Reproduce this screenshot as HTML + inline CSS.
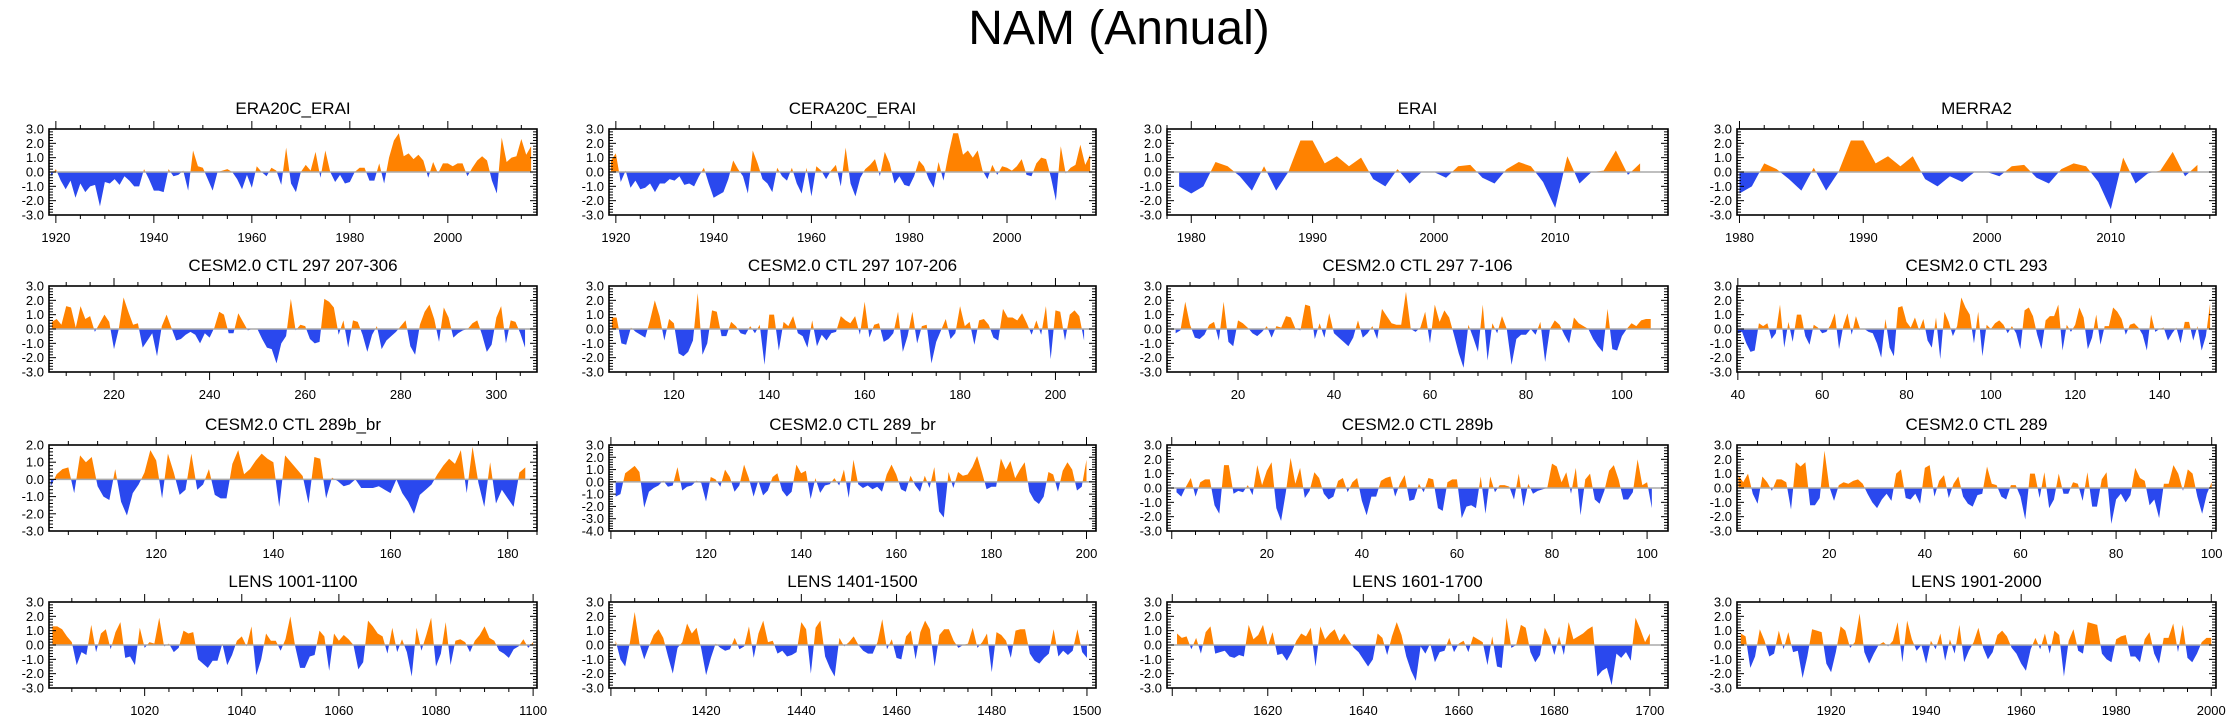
<!DOCTYPE html>
<html><head><meta charset="utf-8"><style>
html,body{margin:0;padding:0;background:#fff;}
svg{display:block;font-family:"Liberation Sans",Arial,sans-serif;}
</style></head><body>
<svg id="fig" width="2238" height="718" viewBox="0 0 2238 718" xmlns="http://www.w3.org/2000/svg">
<text x="1119" y="44" text-anchor="middle" font-size="48" fill="#000">NAM (Annual)</text>
<g id="panels"></g>
</svg>
<script>
const titles = ["ERA20C_ERAI","CERA20C_ERAI","ERAI","MERRA2",
"CESM2.0 CTL 297 207-306","CESM2.0 CTL 297 107-206","CESM2.0 CTL 297 7-106","CESM2.0 CTL 293",
"CESM2.0 CTL 289b_br","CESM2.0 CTL 289_br","CESM2.0 CTL 289b","CESM2.0 CTL 289",
"LENS 1001-1100","LENS 1401-1500","LENS 1601-1700","LENS 1901-2000"];
const startYears = [1919,1919,1979,1980,207,107,7,40,102,101,1,1,1001,1401,1601,1901];
const xMins = [1918.6,1918.6,1978,1979.8,206.4,106.4,5.2,39.8,101.7,99.6,-1,0.7,1000.3,1399.6,1598.9,1900.2];
const xMaxs = [2018.2,2018.2,2019.3,2018.5,308.5,208.5,109.6,153.4,185,202,104.4,100.9,1100.8,1501.9,1703.8,2001];
const yMins = [-3,-3,-3,-3,-3,-3,-3,-3,-3,-4,-3,-3,-3,-3,-3,-3];
const yMaxs = [3,3,3,3,3,3,3,3,2,3,3,3,3,3,3,3];
const majorSteps = [20,20,10,10,20,20,20,20,20,20,20,20,20,20,20,20];
const minorSteps = [5,5,2,2,5,5,5,5,5,5,5,5,5,5,5,5];

const s0 = [-0.3,0.2,-0.6,-1.2,-0.6,-1.8,-0.8,-1.4,-1.0,-0.9,-2.4,-0.7,-0.8,-0.5,-0.9,-0.3,-0.6,-1.0,-1.0,0.2,-0.5,-1.3,-1.3,-1.4,0.2,-0.3,-0.2,0.1,-1.3,1.5,0.4,0.3,-0.5,-1.3,0.0,0.1,0.2,0.0,-0.5,-1.2,-0.2,-1.1,0.4,0.0,-0.3,0.3,0.1,-0.9,1.7,-0.8,-1.4,0.0,0.5,0.1,1.4,-0.4,1.5,0.0,-0.7,-0.2,-0.8,-0.7,0.0,0.3,0.3,-0.6,-0.6,0.6,-0.8,1.0,2.2,2.7,1.1,1.3,0.9,1.2,0.8,-0.4,0.7,-0.1,0.6,0.6,0.4,0.6,0.6,-0.3,0.3,0.8,1.1,0.8,-0.6,-1.5,2.4,0.7,1.0,1.1,2.3,1.2,1.8];
const s1 = [0.8,1.3,-0.7,0.1,-1.1,-0.6,-1.2,-1.1,-0.8,-1.4,-0.8,-0.8,-0.5,-0.6,-0.3,-0.9,-0.8,-1.0,-0.3,0.3,-0.8,-1.8,-1.6,-1.4,-0.5,0.8,0.2,-0.3,-1.5,1.5,0.6,-0.5,-0.8,-1.4,0.3,-0.3,-0.6,0.3,-0.8,-1.5,0.3,-1.7,0.4,0.1,-0.5,0.1,0.5,-1.0,1.7,-0.8,-1.7,-0.4,0.2,0.5,0.9,-0.3,1.4,0.6,-0.8,-0.3,-0.9,-1.0,-0.3,0.8,0.4,-0.5,-1.1,0.7,-0.6,1.2,2.7,2.7,1.2,1.5,1.0,1.5,0.1,-0.5,0.5,-0.2,0.4,0.3,0.1,0.4,0.9,-0.2,-0.3,0.6,1.0,0.9,-0.4,-2.0,1.8,-0.1,0.3,0.5,1.9,0.5,1.2];
const s2 = [-1.0,-1.5,-1.0,0.7,0.4,-0.3,-1.3,0.4,-1.3,0.0,2.2,2.2,0.6,1.1,0.4,1.0,-0.5,-1.0,0.2,-0.8,0.0,0.0,-0.4,0.4,0.5,-0.4,-0.8,0.2,0.7,0.4,-0.7,-2.5,1.1,-0.8,0.0,0.1,1.5,-0.2,0.6];
const s3 = [-1.5,-1.0,0.6,0.2,-0.5,-1.3,0.3,-1.3,0.0,2.2,2.2,0.6,1.1,0.4,1.1,-0.5,-1.0,-0.3,-0.7,0.0,0.0,-0.3,0.4,0.5,-0.4,-0.8,0.2,0.6,0.4,-0.7,-2.6,1.0,-0.8,-0.1,0.1,1.4,-0.3,0.5];
const s4 = [0.5,0.7,0.3,1.6,1.5,0.1,1.6,0.7,0.9,-0.2,0.4,1.0,0.5,-1.4,0.0,2.2,1.2,0.3,0.4,-1.3,-0.8,-0.3,-1.9,0.2,1.0,0.1,-0.8,-0.7,-0.4,-0.2,-0.4,-1.0,-0.3,-0.6,0.1,1.2,1.0,-0.3,-0.3,1.1,0.5,-0.1,0.0,0.0,-0.7,-1.3,-1.4,-2.4,-1.0,-0.5,2.1,-0.1,0.3,0.2,-0.7,-1.0,-0.9,2.1,1.9,1.5,-0.4,0.6,-1.3,0.6,0.5,-0.4,-1.6,-0.4,0.2,-1.4,-0.8,-0.5,-0.2,0.2,0.6,-1.2,-1.8,0.3,1.2,1.7,0.7,-0.9,1.5,0.8,-0.6,-0.3,-0.1,0.0,0.4,0.6,-0.4,-1.6,-1.1,0.8,1.6,-1.0,0.6,0.5,-0.3,-1.3];
const s5 = [0.8,0.8,-1.0,-1.1,0.1,-0.2,-0.4,-0.6,0.6,2.0,0.9,-0.8,0.7,0.4,-1.7,-1.9,-1.6,-0.8,2.5,-1.8,-1.0,1.3,1.2,-0.5,-0.5,0.5,0.2,-0.3,-0.4,0.2,-0.3,0.3,-2.5,1.0,1.0,-1.5,0.5,0.2,0.9,-0.3,-0.5,-1.3,0.6,-1.2,-0.4,-0.8,-0.3,-0.2,0.9,0.6,0.4,0.9,-0.4,1.9,-0.6,0.3,0.4,-0.9,-0.7,-0.3,1.2,-1.6,-0.5,1.2,-1.0,0.2,0.3,-2.4,-0.9,-0.1,0.7,-0.7,-0.3,1.6,0.2,0.5,-1.1,0.6,0.7,0.3,-0.6,-0.8,1.4,0.8,0.8,0.6,1.1,0.4,-0.4,0.6,-0.4,1.6,-2.1,1.3,1.2,-0.8,1.0,1.3,0.9,-0.8];
const s6 = [-0.3,-0.1,1.9,0.3,-0.6,-0.7,-0.4,0.3,0.5,-0.8,1.9,-0.9,-1.2,0.6,0.4,0.1,-0.3,-0.5,-0.2,0.2,-0.6,0.2,0.1,0.9,0.8,0.0,-0.1,1.7,1.6,-0.7,0.4,-0.6,1.1,-0.3,-0.6,-0.9,-1.2,-0.6,0.6,-0.6,-0.3,0.2,-0.7,1.4,0.9,0.4,0.3,0.3,2.6,0.0,-0.2,0.1,1.2,-1.0,1.7,0.5,1.3,0.8,-0.4,-1.7,-2.7,0.3,-0.6,-1.6,1.7,-2.2,0.4,-0.3,0.9,0.0,-2.5,-0.7,-0.4,-0.4,0.0,-0.4,0.5,-2.3,0.0,0.6,0.3,-0.4,-1.0,0.8,0.4,0.2,0.0,-0.7,-1.2,-1.6,1.4,-1.4,-1.5,-0.5,0.0,0.4,0.2,0.6,0.7,0.7];
const s7 = [-0.3,-0.2,-1.0,-1.6,-1.5,0.4,0.2,0.4,-0.7,-0.3,1.7,-1.3,0.5,-0.9,1.0,1.0,-0.5,-1.1,0.3,0.1,-0.3,-0.2,0.3,1.1,-1.4,0.2,1.1,-0.4,0.9,0.0,0.0,-0.2,-0.3,-1.0,-2.0,0.7,-1.3,-1.9,1.5,1.6,0.5,0.1,0.8,-0.1,0.7,-0.8,-1.3,0.8,-2.1,1.2,0.5,-0.5,0.2,2.2,1.5,1.0,-1.0,1.2,-1.9,0.3,0.0,0.4,0.6,0.3,-0.3,0.2,-0.3,-1.4,1.3,1.5,0.9,-0.4,-1.4,0.6,0.9,0.9,1.7,-1.5,0.3,-0.2,0.3,1.5,0.8,-1.4,-0.6,1.0,-1.1,0.2,0.2,1.5,1.2,0.7,-0.4,0.3,0.4,0.1,-0.4,-1.5,1.0,-0.2,0.0,0.1,-0.8,-0.3,0.1,-1.0,0.5,0.5,-0.8,0.2,-1.5,-0.5,1.8];
const s8 = [-0.4,0.3,0.6,0.7,-0.8,1.4,1.0,1.3,-0.4,-1.0,-1.2,0.6,-1.3,-2.1,-0.8,-0.3,0.4,1.7,1.1,-1.1,1.5,0.4,-0.9,-0.6,1.5,-0.6,-0.3,0.6,-0.9,-1.1,-1.1,0.9,1.7,0.3,0.6,1.1,1.5,1.2,1.0,-1.6,1.4,1.0,0.6,0.2,-1.4,1.3,1.2,-1.1,0.1,-0.1,-0.4,-0.3,0.0,-0.5,-0.5,-0.5,-0.4,-0.6,-0.8,0.0,-0.8,-1.3,-2.0,-0.9,-0.6,-0.3,0.3,0.8,1.2,0.9,1.7,-0.8,1.9,-0.2,-1.6,1.0,-1.4,-0.6,-1.1,-1.6,0.4,0.7];
const s9 = [-1.2,-1.0,0.7,1.0,1.3,0.8,-2.1,-0.8,-0.5,-0.3,0.1,-0.4,-0.3,1.2,-0.7,-0.4,-0.3,0.1,-0.1,-1.6,0.4,0.2,-0.4,1.0,0.4,-0.8,-0.3,1.4,0.3,-1.2,0.1,-1.1,-0.7,0.4,0.7,-0.7,-1.2,-0.8,1.4,0.7,0.9,-1.4,0.3,-0.9,-0.3,-0.2,0.3,-0.3,1.0,-1.3,1.8,-0.2,-0.5,-0.3,-0.6,-0.4,-0.8,0.6,1.4,0.6,-0.6,-0.8,0.5,-0.3,-0.8,0.5,-0.5,1.2,-2.4,-2.9,0.8,-0.5,0.8,0.5,0.6,1.2,2.1,0.8,-0.6,-0.4,-0.4,1.9,1.0,1.7,0.3,1.0,1.6,-0.8,-1.5,-1.8,-1.2,0.8,0.6,-0.8,0.9,1.6,1.0,-0.7,-0.4,1.8];
const s10 = [-0.3,-0.6,0.1,0.7,-0.6,0.4,0.6,0.6,-1.2,-1.8,1.6,1.6,-0.4,-0.2,-0.3,0.2,-0.5,1.6,0.2,1.2,1.8,-1.4,-2.3,-0.3,2.1,0.3,1.4,-0.7,-0.2,1.1,0.7,-0.4,-0.8,-0.6,0.5,0.7,-0.3,0.4,0.7,-0.9,-1.9,-0.6,-0.6,0.5,0.7,0.8,-0.6,0.3,0.9,-0.9,-0.8,0.3,-0.3,0.7,0.6,-1.4,-1.6,0.4,0.6,0.6,-2.1,-1.3,-1.2,-1.4,0.8,-1.8,0.8,-0.3,0.2,0.2,0.1,-0.8,1.0,-1.3,0.3,-0.4,-0.2,-0.1,0.0,1.7,1.5,0.4,1.1,-0.4,1.4,-1.9,0.6,1.0,-0.8,-1.1,-0.2,1.2,1.6,0.6,-0.8,-0.8,-0.3,2.0,0.2,0.4,-1.4];
const s11 = [0.9,0.4,1.0,-0.4,-1.1,0.8,0.4,-0.2,0.6,0.6,0.4,-1.5,1.8,1.5,1.8,-1.2,-1.2,-0.7,2.6,0.1,-0.9,0.2,0.4,0.3,0.5,0.6,0.3,-0.4,-1.0,-1.4,-0.8,-0.4,-0.9,1.0,1.3,-0.7,-0.8,-0.4,-1.1,1.4,1.6,-0.6,0.5,0.9,-0.7,0.3,0.8,-0.6,-1.1,-1.3,-0.5,-0.4,1.5,0.3,0.2,-0.6,-0.8,0.2,0.2,-0.6,-2.2,1.0,1.0,-0.7,1.1,-1.4,-0.8,1.0,-0.4,-0.4,0.4,0.3,-0.9,1.1,-1.3,-1.3,0.6,1.1,-2.5,-0.8,-0.4,-1.0,-0.5,1.4,0.7,0.5,-1.2,-0.8,-2.1,0.3,0.3,1.6,1.0,-0.2,1.3,1.0,-0.6,-1.8,-0.4,0.4];
const s12 = [1.3,1.3,1.1,0.6,0.2,-1.4,-0.5,-0.7,1.4,-0.5,0.8,1.1,-0.3,0.9,1.6,-0.9,-0.8,-1.4,1.2,-0.2,0.2,0.1,1.9,-0.1,0.1,-0.5,-0.2,1.0,0.8,0.9,-1.0,-1.3,-1.6,-1.1,-1.1,0.1,-1.4,-0.7,0.3,0.6,-0.1,1.3,-2.1,-1.0,0.8,0.3,0.3,-0.4,0.4,2.0,-0.1,-1.6,-1.6,-0.8,-0.7,1.0,0.6,-1.8,0.8,0.3,0.7,0.4,0.0,-1.7,-1.2,1.7,1.3,0.8,0.6,-0.6,1.2,-0.5,0.4,-0.5,-2.2,1.2,-0.4,0.7,1.9,-1.5,-0.6,1.6,-1.4,0.3,0.4,0.2,-0.5,0.3,0.7,1.3,0.5,0.3,-0.4,-0.6,-0.9,-0.3,-0.1,0.4,-0.2,0.2];
const s13 = [0.3,-1.0,-1.5,0.2,2.3,0.1,-1.0,-0.1,0.7,1.1,0.5,-0.8,-2.0,-0.2,0.2,1.5,0.8,1.2,-0.3,-2.1,-0.9,0.1,-0.2,-0.4,-0.3,0.5,-0.3,-0.1,1.3,-0.9,0.8,1.7,0.2,0.3,-0.6,-0.4,-0.8,-0.7,-0.5,1.6,1.1,-2.0,1.2,1.7,-0.8,-1.6,-2.2,0.5,-0.1,0.2,0.6,0.0,-0.4,-0.6,-0.6,0.2,1.8,-0.3,0.4,-0.9,-1.0,0.6,1.0,-1.0,0.9,1.7,1.1,-1.5,0.7,1.1,1.1,0.3,-0.2,0.0,0.1,1.2,-0.2,0.2,0.8,-1.9,0.9,0.7,0.3,-0.9,1.0,1.1,1.1,-0.6,-1.1,-1.3,-0.9,-0.6,1.1,-0.8,-0.4,-0.7,-0.4,1.1,-0.5,-0.9];
const s14 = [0.8,0.5,0.6,-0.3,0.5,-0.6,0.9,1.3,-0.6,-0.5,-0.4,-0.8,-0.9,-0.7,-0.8,1.4,0.4,0.7,1.4,-0.1,0.9,-0.7,-0.6,-1.1,-0.5,0.3,0.8,0.6,1.2,-1.5,1.3,0.4,0.8,1.1,0.3,0.8,0.3,-0.2,-0.5,-1.0,-1.5,-1.0,0.8,0.5,-0.7,0.6,1.6,0.7,-0.8,-1.8,-2.5,-0.1,-0.6,0.1,-1.2,-0.5,-0.4,0.5,-0.5,0.1,0.3,-0.5,0.6,0.4,0.2,-1.4,0.6,-1.5,-1.6,1.9,-0.2,0.0,1.4,1.2,-0.5,-1.2,-0.7,1.2,0.5,-0.7,0.6,-0.7,1.6,0.4,0.6,0.8,1.1,1.3,-2.2,-1.8,-1.6,-2.8,-0.6,-0.9,-0.5,-1.1,1.9,1.1,0.2,0.8];
const s15 = [0.8,0.6,-1.6,-0.8,1.1,0.3,-0.8,-0.6,1.0,-0.3,0.9,-0.5,-0.4,-2.3,-0.8,1.1,1.0,0.9,-1.3,-1.9,-0.5,1.3,1.0,-0.2,0.2,2.2,-0.5,-1.3,-0.6,0.0,0.2,-0.1,0.3,1.6,-1.2,1.7,0.4,-0.4,0.0,-1.3,0.3,-0.3,0.8,-1.1,0.4,-0.6,1.4,-1.2,-0.4,0.2,1.2,-0.2,-1.0,-0.5,0.7,1.0,0.6,-0.2,-0.6,-1.3,-1.8,-0.3,0.5,-0.3,0.8,-0.6,1.0,0.7,-2.2,0.3,1.1,-0.4,-0.6,1.6,1.5,1.4,-0.6,-1.0,-1.2,0.4,0.6,0.7,-0.8,-0.8,-1.2,0.4,0.9,-0.6,-1.3,0.5,0.5,1.5,-0.5,1.4,-0.9,-1.2,-0.6,0.2,0.5,0.5];
const series = [s0,s1,s2,s3,s4,s5,s6,s7,s8,s9,s10,s11,s12,s13,s14,s15];

const colLeft = [49,609,1167,1737];
const colWidth = [488,487,501,479];
const rowTop = [129,286,445,602];
const boxH = 86;
const NS = "http://www.w3.org/2000/svg";
const root = document.getElementById('panels');
function mk(tag, attrs, parent){const e=document.createElementNS(NS,tag);for(const k in attrs)e.setAttribute(k,attrs[k]);parent.appendChild(e);return e;}
function fmtY(v){return v.toFixed(1);}

for(let p=0;p<16;p++){
  const r=Math.floor(p/4), c=p%4;
  const L=colLeft[c], W=colWidth[c], T=rowTop[r], H=boxH;
  const xmin=xMins[p], xmax=xMaxs[p], ymin=yMins[p], ymax=yMaxs[p];
  const sx=v=>L+(v-xmin)/(xmax-xmin)*W;
  const sy=v=>T+(ymax-v)/(ymax-ymin)*H;
  const g=mk('g',{},root);
  
  
  const tt=mk('text',{x:L+W/2,y:T-15,'text-anchor':'middle','font-size':17,fill:'#000'},g);
  tt.textContent=titles[p];
  
  
  const clipId='c'+p;
  const defs=mk('defs',{},g);
  const cpU=mk('clipPath',{id:clipId+'u'},defs); mk('rect',{x:L,y:T,width:W,height:sy(0)-T},cpU);
  const cpD=mk('clipPath',{id:clipId+'d'},defs); mk('rect',{x:L,y:sy(0),width:W,height:T+H-sy(0)},cpD);
  const vals=series[p], x0=startYears[p];
  let d='M'+sx(x0).toFixed(2)+','+sy(0).toFixed(2);
  for(let i=0;i<vals.length;i++) d+=' L'+sx(x0+i).toFixed(2)+','+sy(vals[i]).toFixed(2);
  d+=' L'+sx(x0+vals.length-1).toFixed(2)+','+sy(0).toFixed(2)+' Z';
  const pu=mk('path',{d:d,fill:'#ff8200','clip-path':'url(#'+clipId+'u)'},g);
  
  
  const pd=mk('path',{d:d,fill:'#2a48ee','clip-path':'url(#'+clipId+'d)'},g);
  
  
  const zl=mk('line',{x1:L,x2:L+W,y1:sy(0),y2:sy(0),stroke:'#aaa','stroke-width':1.5},g);
  
  
  const box=mk('rect',{x:L,y:T,width:W,height:H,fill:'none',stroke:'#000','stroke-width':1.6},g);
  
  
  for(let v=ymin; v<=ymax+1e-6; v+=0.2){
    const yy=sy(v); const maj=Math.abs(v-Math.round(v))<1e-6; const len=maj?7:4;
    mk('line',{x1:L,x2:L+len,y1:yy,y2:yy,stroke:'#000','stroke-width':1},g);
    mk('line',{x1:L+W,x2:L+W-len,y1:yy,y2:yy,stroke:'#000','stroke-width':1},g);
    if(maj){const t=mk('text',{x:L-5,y:yy+4.5,'text-anchor':'end','font-size':13,fill:'#000'},g);t.textContent=fmtY(Math.round(v));
      
      }
  }
  const ms=minorSteps[p], Ms=majorSteps[p];
  for(let v=Math.ceil(xmin/ms)*ms; v<=xmax; v+=ms){
    const xx=sx(v); const maj=(v%Ms===0); const len=maj?8:4;
    mk('line',{x1:xx,x2:xx,y1:T,y2:T-len,stroke:'#000','stroke-width':1},g);
    mk('line',{x1:xx,x2:xx,y1:T+H,y2:T+H+len,stroke:'#000','stroke-width':1},g);
    if(maj && v>=x0){const t=mk('text',{x:xx,y:T+H+27,'text-anchor':'middle','font-size':13,fill:'#000'},g);t.textContent=String(v);
      
      }
  }
}
</script>
</body></html>
